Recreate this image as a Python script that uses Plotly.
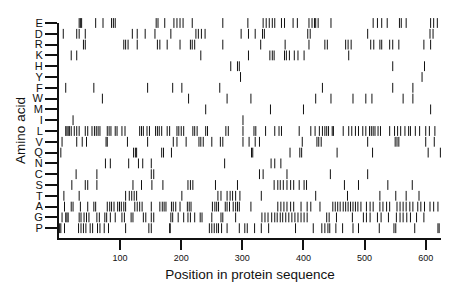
import plotly.graph_objects as go

# Amino acids, top to bottom as drawn
amino_acids = ["E", "D", "R", "K", "H", "Y", "F", "W", "M", "I",
               "L", "V", "Q", "N", "C", "S", "T", "A", "G", "P"]

# Positions (residue index) of each amino acid in the protein sequence
pos_E = [33, 35, 37, 60, 72, 86, 89, 92, 159, 162, 173, 188, 193, 198, 203, 218, 268, 309,
         334, 339, 344, 349, 353, 364, 369, 383, 390, 409, 414, 418, 420, 424, 445, 514,
         521, 528, 537, 557, 560, 568, 608, 613, 619]
pos_D = [7, 29, 33, 43, 120, 128, 141, 157, 183, 224, 228, 233, 239, 298, 310, 321, 333,
         336, 407, 411, 505, 607, 612]
pos_R = [40, 43, 106, 109, 113, 128, 161, 165, 177, 198, 215, 218, 222, 268, 330, 370, 409,
         435, 439, 469, 473, 478, 510, 515, 525, 528, 541, 546, 556, 597, 608]
pos_K = [20, 29, 232, 310, 345, 349, 352, 369, 372, 377, 385, 391, 401, 474]
pos_H = [281, 292, 295, 546, 598]
pos_Y = [297, 594]
pos_F = [11, 57, 145, 186, 201, 263, 431, 546, 579]
pos_W = [71, 212, 275, 314, 420, 445, 481, 502, 512, 563, 579]
pos_M = [240, 346, 400, 608]
pos_I = [23, 301]
pos_L = [11, 13, 15, 17, 20, 25, 29, 33, 43, 47, 54, 58, 61, 64, 67, 79, 82, 85, 92, 95,
         103, 108, 132, 135, 138, 144, 148, 158, 161, 164, 168, 177, 181, 193, 196, 200,
         204, 219, 222, 226, 240, 243, 273, 277, 301, 319, 322, 338, 353, 360, 364, 393,
         412, 419, 426, 431, 435, 438, 441, 447, 449, 465, 474, 479, 485, 490, 497, 502,
         508, 511, 514, 517, 522, 526, 541, 549, 554, 559, 566, 572, 575, 583, 590, 600,
         606, 615]
pos_V = [5, 29, 38, 45, 77, 79, 112, 145, 187, 193, 208, 229, 232, 236, 250, 264, 268, 301,
         311, 321, 328, 398, 422, 425, 429, 505, 550, 553, 556, 600, 614]
pos_Q = [3, 122, 125, 127, 168, 171, 184, 315, 317, 378, 394, 397, 455, 513, 604, 624]
pos_N = [76, 84, 114, 130, 137, 151, 271, 347, 353, 363]
pos_C = [28, 62, 151, 155, 328, 334, 373, 444, 505]
pos_S = [21, 43, 47, 62, 121, 135, 152, 170, 211, 215, 219, 256, 292, 352, 358, 362, 367,
         373, 379, 384, 393, 401, 405, 467, 490, 538, 578]
pos_T = [8, 33, 109, 115, 119, 123, 127, 201, 260, 265, 275, 280, 284, 289, 296, 331, 420,
         472, 525, 551, 568, 589]
pos_A = [9, 20, 23, 35, 47, 57, 60, 79, 83, 86, 90, 96, 99, 102, 106, 109, 124, 128, 132,
         136, 151, 165, 169, 172, 175, 184, 187, 191, 198, 210, 213, 216, 251, 255, 258,
         261, 272, 275, 279, 285, 289, 292, 295, 314, 358, 363, 368, 373, 379, 384, 396,
         406, 412, 427, 448, 452, 456, 460, 465, 469, 473, 477, 481, 485, 489, 494, 503,
         509, 514, 525, 530, 536, 541, 553, 558, 563, 568, 574, 579, 587, 592, 598, 607,
         613, 620]
pos_G = [5, 11, 13, 15, 33, 36, 41, 45, 49, 62, 66, 75, 78, 84, 92, 103, 107, 118, 121, 138,
         142, 151, 155, 183, 186, 195, 204, 211, 215, 222, 231, 234, 250, 265, 268, 289,
         332, 337, 342, 348, 353, 357, 362, 366, 371, 376, 381, 386, 391, 396, 401, 406,
         438, 442, 454, 480, 498, 503, 509, 521, 527, 539, 552, 558, 563, 569, 575, 585,
         597]
pos_P = [1, 3, 9, 32, 36, 40, 44, 51, 55, 63, 67, 74, 81, 109, 147, 151, 181, 182, 246,
         250, 254, 258, 261, 266, 275, 295, 304, 308, 320, 331, 343, 387, 416, 430, 435,
         440, 443, 453, 464, 481, 490, 524, 548, 551, 582, 620, 622]

positions = [pos_E, pos_D, pos_R, pos_K, pos_H, pos_Y, pos_F, pos_W, pos_M, pos_I,
             pos_L, pos_V, pos_Q, pos_N, pos_C, pos_S, pos_T, pos_A, pos_G, pos_P]

x_tick_values = [100, 200, 300, 400, 500, 600]
x_title = "Position in protein sequence"
y_title = "Amino acid"

FONT = "Liberation Sans, Arial, Helvetica, sans-serif"
INK = "#111111"

fig = go.Figure()
for aa, xs in zip(amino_acids, positions):
    fig.add_trace(go.Scatter(
        x=xs, y=[aa] * len(xs), mode="markers",
        marker=dict(symbol="line-ns", size=7, color=INK,
                    line=dict(width=1, color=INK)),
        cliponaxis=False, showlegend=False, hoverinfo="x+y",
    ))

fig.update_layout(
    width=460, height=299,
    margin=dict(l=59, r=19, t=23, b=61, autoexpand=False),
    paper_bgcolor="white", plot_bgcolor="white",
    font=dict(family=FONT, color=INK),
    showlegend=False,
)
fig.update_xaxes(
    range=[0, 625], tickmode="array", tickvals=x_tick_values,
    ticks="outside", ticklen=10, tickwidth=1.5, tickcolor=INK,
    showline=True, linewidth=2, linecolor=INK, mirror=False,
    showgrid=False, zeroline=False, automargin=False,
    tickfont=dict(size=9, family=FONT, color=INK),
    title=dict(text=x_title, font=dict(size=13.5, family=FONT, color=INK), standoff=8),
)
fig.update_yaxes(
    type="category", categoryorder="array",
    categoryarray=list(reversed(amino_acids)),
    tickmode="array", tickvals=amino_acids, ticktext=amino_acids,
    range=[-0.907, 19],
    ticks="outside", ticklen=12, tickwidth=1.5, tickcolor=INK,
    showline=True, linewidth=2, linecolor=INK,
    showgrid=False, zeroline=False, automargin=False,
    tickfont=dict(size=11, family=FONT, color=INK),
    title=dict(text=y_title, font=dict(size=13.5, family=FONT, color=INK), standoff=4),
)

fig.write_html(
    "out.html",
    config={"displayModeBar": False},
    post_script="document.body.style.margin='0';document.body.style.padding='0';",
)
